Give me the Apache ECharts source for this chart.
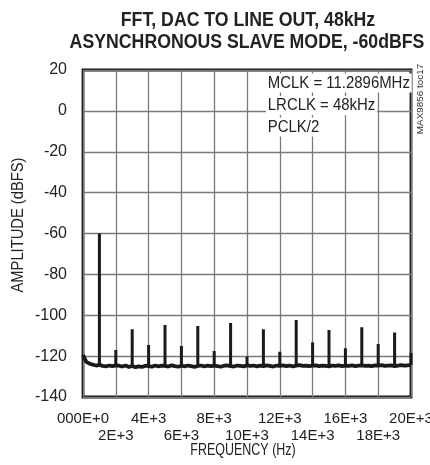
<!DOCTYPE html>
<html><head><meta charset="utf-8">
<script src="https://cdn.jsdelivr.net/npm/echarts@6/dist/echarts.min.js"></script>
<style>html,body{margin:0;padding:0;background:#fff}#c{width:430px;height:465px}</style>
</head><body><div id="c"></div>
<script>
// noise floor, sampled every 200 Hz from 0 to 20 kHz (dBFS)
const floorStep = 200;
const floorValues = [
 -119.5,-122.8,-123.7,-124.2,-124.6,-124.3,-124.8,-125.0,-124.6,-124.9,
 -124.5,-124.7,-125.1,-124.6,-125.3,-124.8,-125.4,-125.0,-125.3,-124.7,
 -124.9,-125.2,-124.6,-125.0,-124.7,-124.8,-125.1,-124.5,-124.9,-125.2,
 -124.7,-125.0,-124.6,-124.9,-125.3,-124.8,-124.6,-125.0,-124.7,-124.9,
 -124.6,-124.9,-125.2,-124.7,-124.5,-124.9,-125.1,-124.6,-124.8,-125.0,
 -124.5,-124.8,-124.6,-125.0,-124.7,-124.9,-124.5,-124.8,-125.1,-124.6,
 -124.8,-124.5,-124.9,-124.6,-125.0,-124.7,-124.4,-124.8,-124.6,-124.9,
 -124.7,-124.5,-124.9,-124.6,-124.8,-125.0,-124.6,-124.8,-124.5,-124.9,
 -124.6,-124.8,-124.5,-124.9,-124.7,-124.5,-124.8,-124.6,-124.9,-124.5,
 -124.7,-124.4,-124.8,-124.6,-124.5,-124.9,-124.6,-124.4,-124.7,-124.5,
 -124.3
];
// fundamental (1 kHz) and harmonics
const peakFreqs = [1000,2000,3000,4000,5000,6000,7000,8000,9000,10000,
                   11000,12000,13000,14000,15000,16000,17000,18000,19000,20000];
const peakValues = [-60,-117,-106.8,-114.6,-104.8,-115,-105.3,-117.5,-103.8,-120.2,
                    -106.9,-117.8,-102.3,-113.3,-107.2,-116.2,-105.9,-114.1,-108.5,-118.5];
const yTicks = [20,0,-20,-40,-60,-80,-100,-120,-140];
// x tick labels: upper row (every 4 kHz) and lower row (2 kHz + n*4 kHz)
const xTicksUpper = {0:'000E+0',4000:'4E+3',8000:'8E+3',12000:'12E+3',16000:'16E+3',20000:'20E+3'};
const xTicksLower = {2000:'2E+3',6000:'6E+3',10000:'10E+3',14000:'14E+3',18000:'18E+3'};

const FONT = '"Liberation Sans",Arial,sans-serif';
const floorData = floorValues.map((v,i)=>[i*floorStep, v]);
const peakData = [];
peakFreqs.forEach((f,i)=>{
  const base = floorValues[Math.round(f/floorStep)];
  peakData.push([f, base],[f, peakValues[i]],[f,'-']);
});

const xLabelStyle = {fontFamily:FONT,fontSize:15,color:'#222',
  interval:0,showMinLabel:true,showMaxLabel:true,hideOverlap:false};

const chart = echarts.init(document.getElementById('c'), null, {renderer:'canvas'});
chart.setOption({
  animation:false,
  grid:{left:83,right:19,top:70,bottom:68,outerBoundsMode:'none',containLabel:false,
        show:true,borderColor:'#111',borderWidth:2.8,backgroundColor:'transparent'},
  xAxis:[
    {type:'value',min:0,max:20000,interval:2000,position:'bottom',
     axisLine:{show:false},axisTick:{show:false},
     splitLine:{show:true,lineStyle:{color:'#7a7a7a',width:1.3}},
     axisLabel:Object.assign({margin:14,formatter:v=>xTicksUpper[v]||''},xLabelStyle)},
    {type:'value',min:0,max:20000,interval:2000,position:'bottom',offset:17,
     axisLine:{show:false},axisTick:{show:false},splitLine:{show:false},
     axisLabel:Object.assign({margin:14,formatter:v=>xTicksLower[v]||''},xLabelStyle)}
  ],
  yAxis:{type:'value',min:-140,max:20,interval:20,
    axisLine:{show:false},axisTick:{show:false},
    splitLine:{show:true,lineStyle:{color:'#7a7a7a',width:1.3}},
    axisLabel:{margin:16,fontFamily:FONT,fontSize:16,color:'#222',
      interval:0,showMinLabel:true,showMaxLabel:true,
      formatter:v=>yTicks.includes(v)?String(v):''}},
  series:[
    {type:'line',xAxisIndex:0,data:floorData,showSymbol:false,symbol:'none',clip:true,
     lineStyle:{color:'#1a1a1a',width:3.8},z:3},
    {type:'line',xAxisIndex:0,data:peakData,showSymbol:false,symbol:'none',connectNulls:false,clip:true,
     lineStyle:{color:'#1a1a1a',width:3},z:4}
  ],
  graphic:[
    {type:'text',x:248,y:20,scaleX:0.843,style:{text:'FFT, DAC TO LINE OUT, 48kHz',font:'bold 21px '+FONT,fill:'#222',align:'center',verticalAlign:'middle'}},
    {type:'text',x:247,y:42,scaleX:0.843,style:{text:'ASYNCHRONOUS SLAVE MODE, -60dBFS',font:'bold 21px '+FONT,fill:'#222',align:'center',verticalAlign:'middle'}},
    {type:'text',x:243,y:451,scaleX:0.78,style:{text:'FREQUENCY (Hz)',font:'16px '+FONT,fill:'#222',align:'center',verticalAlign:'middle'}},
    {type:'text',x:18.5,y:225,rotation:Math.PI/2,scaleX:0.92,style:{text:'AMPLITUDE (dBFS)',font:'16px '+FONT,fill:'#222',align:'center',verticalAlign:'middle'}},
    {type:'text',x:266,y:83,z:10,scaleX:0.905,style:{text:'MCLK = 11.2896MHz',font:'16.5px '+FONT,fill:'#222',verticalAlign:'middle',backgroundColor:'#fff',padding:[1,2]}},
    {type:'text',x:266,y:105.5,z:10,scaleX:0.905,style:{text:'LRCLK = 48kHz',font:'16.5px '+FONT,fill:'#222',verticalAlign:'middle',backgroundColor:'#fff',padding:[1,2]}},
    {type:'text',x:266,y:127,z:10,scaleX:0.905,style:{text:'PCLK/2',font:'16.5px '+FONT,fill:'#222',verticalAlign:'middle',backgroundColor:'#fff',padding:[1,2]}},
    {type:'text',x:421,y:99,z:11,rotation:Math.PI/2,scaleX:1.1,style:{text:'MAX9856 toc17',font:'9px '+FONT,fill:'#333',align:'center',verticalAlign:'middle'}}
  ]
});
</script></body></html>
